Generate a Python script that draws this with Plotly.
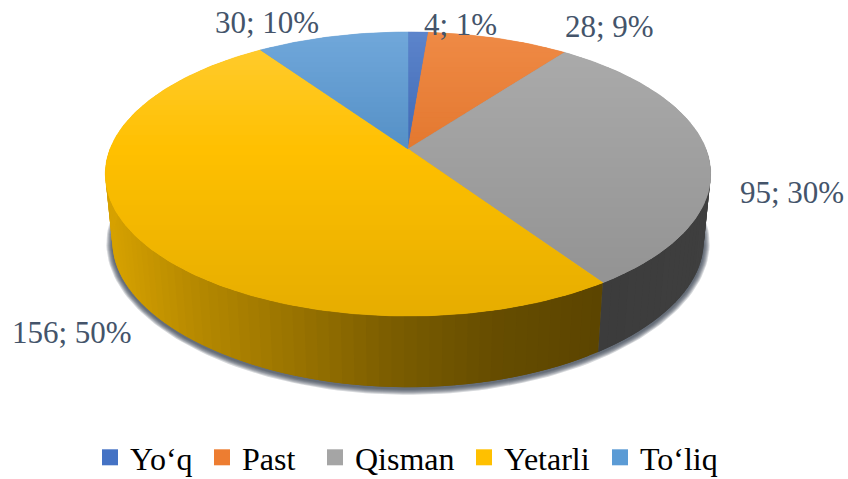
import numpy as np
import plotly.graph_objects as go

categories = ["Yo‘q", "Past", "Qisman", "Yetarli", "To‘liq"]
values = [4, 28, 95, 156, 30]
percents = [1, 9, 30, 50, 10]
colors = ["#4472C4", "#ED7D31", "#A5A5A5", "#FFC000", "#5B9BD5"]
top_light = [0.13, 0.10, 0.08, 0.20, 0.13]
mid_shade = [0.92, 0.96, 0.97, 1.00, 0.93]
legend_widths = [67, 68, 104, 91, 78]

W, H = 848, 479
CX, CY, A, B, K = 408.0, 149.0, 298.0, 137.6, 0.176
CY2, A2, B2, K2 = 218.0, 291.0, 132.0, 0.22
LABEL_POS = [(460, 24), (609, 26), (792, 192), (72, 332), (267, 22)]
LABEL_COLOR = "#44546A"
SERIF = "Liberation Serif"


def rgb(c):
    return np.array([int(c[i:i + 2], 16) for i in (1, 3, 5)], float)


def css(v):
    v = np.clip(v, 0, 255).round().astype(int)
    return f"rgb({v[0]},{v[1]},{v[2]})"


def top_pt(t):
    u, v = np.sin(t), np.cos(t)
    w = 1 + K * v
    return CX + A * u / w, CY - B * v / w


def bot_pt(t):
    u, v = np.sin(t), np.cos(t)
    return CX + A2 * u / (1 + K * v), CY2 - B2 * v / (1 + K2 * v)


def top_color(i, y):
    base = rgb(colors[i])
    mid = base * mid_shade[i]
    white = np.array([255.0, 255, 255])
    if y < 150:
        f = (150 - y) / 118
        return mid + (base + (white - base) * top_light[i] - mid) * f
    f = (y - 150) / 166
    return mid * (1 - 0.10 * f)


def wall_color(c, x):
    f = np.interp(x, [110, 200, 300, 400, 500, 600, 710],
                  [0.84, 0.71, 0.60, 0.48, 0.40, 0.36, 0.38])
    return rgb(c) * f


def clip(poly, y0, keep_below):
    out = []
    n = len(poly)
    for i in range(n):
        p, q = poly[i], poly[(i + 1) % n]
        pin = p[1] >= y0 if keep_below else p[1] <= y0
        qin = q[1] >= y0 if keep_below else q[1] <= y0
        if pin:
            out.append(p)
        if pin != qin:
            s = (y0 - p[1]) / (q[1] - p[1])
            out.append((p[0] + s * (q[0] - p[0]), y0))
    return out


def poly_trace(poly, color, lw=0.0):
    xs = [p[0] for p in poly] + [poly[0][0]]
    ys = [p[1] for p in poly] + [poly[0][1]]
    return go.Scatter(x=xs, y=ys, mode="lines", fill="toself", fillcolor=color,
                      line=dict(color=color, width=lw), hoverinfo="skip", showlegend=False)


fig = go.Figure()
total = sum(values)
edges = 2 * np.pi * np.cumsum([0] + values) / total

# soft shadow below the base
ts = np.linspace(0, 2 * np.pi, 240)
for off in [6, 5, 4, 3, 2, 1]:
    pts = []
    for t in ts:
        x, y = bot_pt(t)
        sx, sy = (x - CX) / 296, (y - 248) / 139
        pts.append((x + off * sx, y + off * sy + 1.5))
    fig.add_trace(poly_trace(pts, "rgba(50,60,75,0.20)"))

# side wall
for i, c in enumerate(colors):
    a0, a1 = max(edges[i], np.pi / 2), min(edges[i + 1], 1.5 * np.pi)
    if a1 <= a0:
        continue
    steps = np.linspace(a0, a1, max(2, int(np.degrees(a1 - a0) / 2) + 1))
    for j in range(len(steps) - 1):
        t0, t1 = steps[j], steps[min(j + 2, len(steps) - 1)]
        arc = np.linspace(t0, t1, 4)
        poly = [top_pt(t) for t in arc] + [bot_pt(t) for t in arc[::-1]]
        fig.add_trace(poly_trace(poly, css(wall_color(c, top_pt(steps[j])[0]))))

# top surface: each slice in shaded horizontal bands
BAND = 5
for i, c in enumerate(colors):
    n = max(3, int(np.degrees(edges[i + 1] - edges[i])) + 2)
    sector = [(CX, CY)] + [top_pt(t) for t in np.linspace(edges[i], edges[i + 1], n)]
    ymin, ymax = min(p[1] for p in sector), max(p[1] for p in sector)
    fig.add_trace(poly_trace(sector, css(top_color(i, (ymin + ymax) / 2)), 0.5))
    y = ymin
    while y < ymax:
        part = clip(clip(sector, y, True), y + BAND + 1, False)
        if len(part) >= 3:
            fig.add_trace(poly_trace(part, css(top_color(i, y + BAND / 2))))
        y += BAND

# data labels
for v, p, (x, y) in zip(values, percents, LABEL_POS):
    fig.add_annotation(x=x, y=y, text=f"{v}; {p}%", showarrow=False,
                       font=dict(family=SERIF, size=31, color=LABEL_COLOR),
                       xanchor="center", yanchor="middle")

# legend entries
for name, c, lw in zip(categories, colors, legend_widths):
    fig.add_trace(go.Scatter(x=[None], y=[None], mode="markers", name=name, legendwidth=lw,
                             marker=dict(symbol="square", size=17, color=c)))

fig.update_layout(
    width=W, height=H, autosize=False,
    margin=dict(l=0, r=0, t=0, b=0, autoexpand=False),
    paper_bgcolor="white", plot_bgcolor="white",
    xaxis=dict(range=[0, W], visible=False, fixedrange=True),
    yaxis=dict(range=[H, 0], visible=False, fixedrange=True),
    legend=dict(orientation="h", x=90 / W, xanchor="left", y=49 / H, yanchor="top",
                font=dict(family=SERIF, size=32, color="#000000"),
                bgcolor="rgba(0,0,0,0)", itemclick=False, itemdoubleclick=False),
)
fig.write_html("out.html", config=dict(displayModeBar=False),
               post_script="document.body.style.margin='0';document.body.style.overflow='hidden';")
